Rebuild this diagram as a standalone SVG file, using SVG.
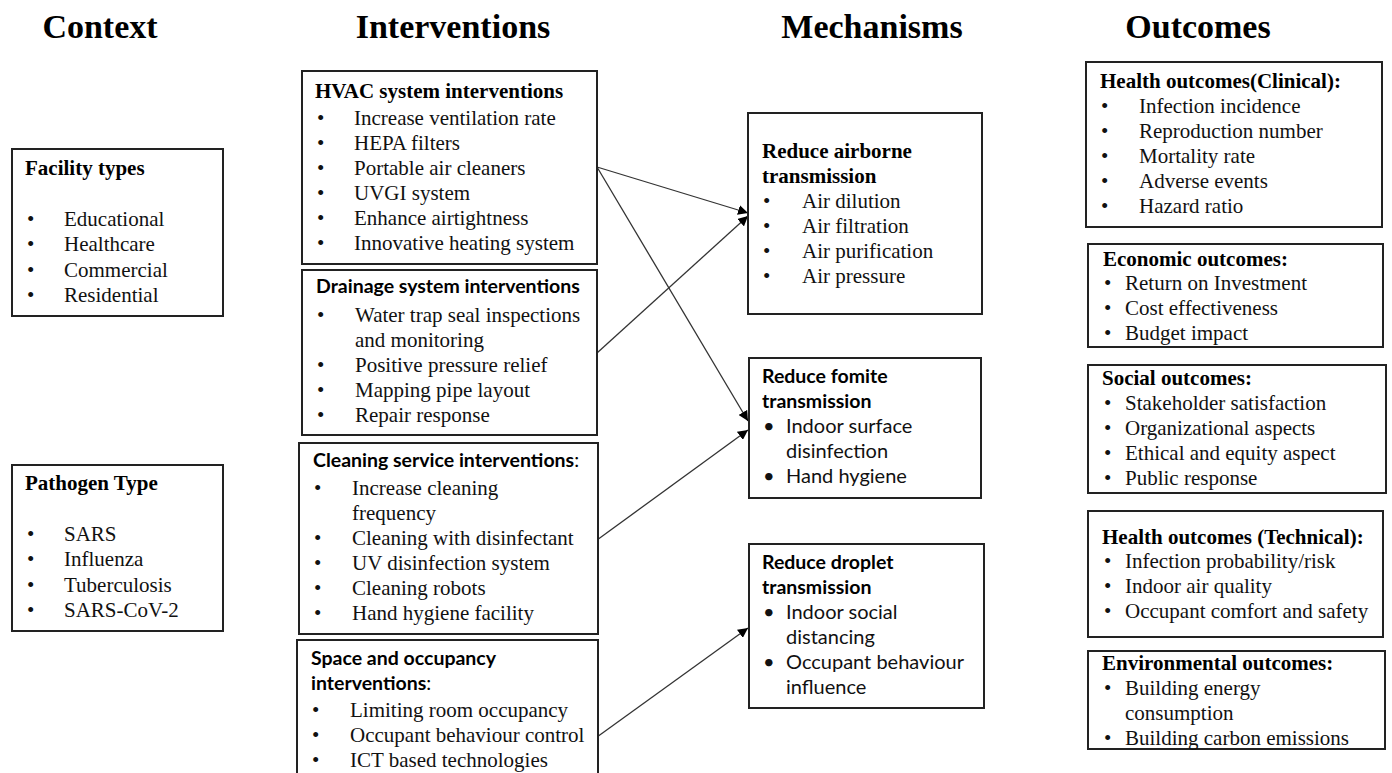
<svg xmlns="http://www.w3.org/2000/svg" width="1392" height="773" viewBox="0 0 1392 773">
<style>
.box{fill:#fff;stroke:#222;stroke-width:2}
.h{font-family:"Liberation Serif","Times New Roman",serif;font-weight:bold;font-size:34px;fill:#000;text-anchor:middle}
.t{font-family:"Liberation Serif","Times New Roman",serif;font-size:21px;fill:#111}
.tb{font-family:"Liberation Serif","Times New Roman",serif;font-size:21px;font-weight:bold;fill:#000}
.s{font-family:Lato,"Open Sans",sans-serif;font-size:20px;fill:#111}
.sb{font-family:Lato,"Open Sans",sans-serif;font-size:19.5px;font-weight:bold;fill:#000}
.ln{stroke:#333;stroke-width:1.3;fill:none;marker-end:url(#ah)}
</style>
<defs>
<marker id="ah" viewBox="0 0 10 10" refX="10" refY="5" markerWidth="10" markerHeight="10" markerUnits="userSpaceOnUse" orient="auto">
<path d="M0,0 L10,5 L0,10 z" fill="#000"/>
</marker>
</defs>
<rect width="1392" height="773" fill="#fff"/>
<g id="headers">
<text class="h" x="100" y="38">Context</text>
<text class="h" x="453" y="38">Interventions</text>
<text class="h" x="872" y="38">Mechanisms</text>
<text class="h" x="1198" y="38">Outcomes</text>
</g>
<g id="connectors">
<line class="ln" x1="597" y1="167" x2="748" y2="213"/>
<line class="ln" x1="597" y1="167" x2="748" y2="421"/>
<line class="ln" x1="597" y1="353" x2="748" y2="216"/>
<line class="ln" x1="597" y1="540" x2="748" y2="430"/>
<line class="ln" x1="597" y1="737" x2="748" y2="628"/>
</g>
<g id="facility">
<rect class="box" x="12" y="149" width="211" height="167"/>
<text class="tb" x="25" y="175">Facility types</text>
<text class="t" x="27" y="226">•</text><text class="t" x="64" y="226">Educational</text>
<text class="t" x="27" y="251">•</text><text class="t" x="64" y="251">Healthcare</text>
<text class="t" x="27" y="277">•</text><text class="t" x="64" y="277">Commercial</text>
<text class="t" x="27" y="302">•</text><text class="t" x="64" y="302">Residential</text>
</g>
<g id="pathogen">
<rect class="box" x="12" y="465" width="211" height="166"/>
<text class="tb" x="25" y="490">Pathogen Type</text>
<text class="t" x="27" y="541">•</text><text class="t" x="64" y="541">SARS</text>
<text class="t" x="27" y="566">•</text><text class="t" x="64" y="566">Influenza</text>
<text class="t" x="27" y="592">•</text><text class="t" x="64" y="592">Tuberculosis</text>
<text class="t" x="27" y="617">•</text><text class="t" x="64" y="617">SARS-CoV-2</text>
</g>
<g id="hvac">
<rect class="box" x="302" y="71" width="295" height="193"/>
<text class="tb" x="315" y="98">HVAC system interventions</text>
<text class="t" x="317" y="125">•</text><text class="t" x="354" y="125">Increase ventilation rate</text>
<text class="t" x="317" y="150">•</text><text class="t" x="354" y="150">HEPA filters</text>
<text class="t" x="317" y="175">•</text><text class="t" x="354" y="175">Portable air cleaners</text>
<text class="t" x="317" y="200">•</text><text class="t" x="354" y="200">UVGI system</text>
<text class="t" x="317" y="225">•</text><text class="t" x="354" y="225">Enhance airtightness</text>
<text class="t" x="317" y="250">•</text><text class="t" x="354" y="250">Innovative heating system</text>
</g>
<g id="drainage">
<rect class="box" x="302" y="270" width="295" height="165"/>
<text class="sb" x="316" y="293">Drainage system interventions</text>
<text class="t" x="317" y="322">•</text><text class="t" x="355" y="322">Water trap seal inspections</text>
<text class="t" x="355" y="347">and monitoring</text>
<text class="t" x="317" y="372">•</text><text class="t" x="355" y="372">Positive pressure relief</text>
<text class="t" x="317" y="397">•</text><text class="t" x="355" y="397">Mapping pipe layout</text>
<text class="t" x="317" y="422">•</text><text class="t" x="355" y="422">Repair response</text>
</g>
<g id="cleaning">
<rect class="box" x="299" y="443" width="299" height="191"/>
<text class="sb" x="313" y="467">Cleaning service interventions<tspan font-weight="normal">:</tspan></text>
<text class="t" x="314" y="495">•</text><text class="t" x="352" y="495">Increase cleaning</text>
<text class="t" x="352" y="520">frequency</text>
<text class="t" x="314" y="545">•</text><text class="t" x="352" y="545">Cleaning with disinfectant</text>
<text class="t" x="314" y="570">•</text><text class="t" x="352" y="570">UV disinfection system</text>
<text class="t" x="314" y="595">•</text><text class="t" x="352" y="595">Cleaning robots</text>
<text class="t" x="314" y="620">•</text><text class="t" x="352" y="620">Hand hygiene facility</text>
</g>
<g id="space">
<rect class="box" x="297" y="640" width="301" height="145"/>
<text class="sb" x="311" y="665">Space and occupancy</text>
<text class="sb" x="311" y="690">interventions<tspan font-weight="normal">:</tspan></text>
<text class="t" x="312" y="717">•</text><text class="t" x="350" y="717">Limiting room occupancy</text>
<text class="t" x="312" y="742">•</text><text class="t" x="350" y="742">Occupant behaviour control</text>
<text class="t" x="312" y="767">•</text><text class="t" x="350" y="767">ICT based technologies</text>
</g>
<g id="airborne">
<rect class="box" x="748" y="113" width="234" height="201"/>
<text class="tb" x="762" y="158">Reduce airborne</text>
<text class="tb" x="762" y="183">transmission</text>
<text class="t" x="763" y="208">•</text><text class="t" x="802" y="208">Air dilution</text>
<text class="t" x="763" y="233">•</text><text class="t" x="802" y="233">Air filtration</text>
<text class="t" x="763" y="258">•</text><text class="t" x="802" y="258">Air purification</text>
<text class="t" x="763" y="283">•</text><text class="t" x="802" y="283">Air pressure</text>
</g>
<g id="fomite">
<rect class="box" x="749" y="358" width="232" height="140"/>
<text class="sb" x="762" y="383">Reduce fomite</text>
<text class="sb" x="762" y="408">transmission</text>
<text class="s" x="763" y="433">•</text><text class="s" x="786" y="433">Indoor surface</text>
<text class="s" x="786" y="458">disinfection</text>
<text class="s" x="763" y="483">•</text><text class="s" x="786" y="483">Hand hygiene</text>
</g>
<g id="droplet">
<rect class="box" x="749" y="544" width="235" height="164"/>
<text class="sb" x="762" y="569">Reduce droplet</text>
<text class="sb" x="762" y="594">transmission</text>
<text class="s" x="763" y="619">•</text><text class="s" x="786" y="619">Indoor social</text>
<text class="s" x="786" y="644">distancing</text>
<text class="s" x="763" y="669">•</text><text class="s" x="786" y="669">Occupant behaviour</text>
<text class="s" x="786" y="694">influence</text>
</g>
<g id="clinical">
<rect class="box" x="1086" y="62" width="296" height="165"/>
<text class="tb" x="1100" y="88">Health outcomes(Clinical):</text>
<text class="t" x="1101" y="113">•</text><text class="t" x="1139" y="113">Infection incidence</text>
<text class="t" x="1101" y="138">•</text><text class="t" x="1139" y="138">Reproduction number</text>
<text class="t" x="1101" y="163">•</text><text class="t" x="1139" y="163">Mortality rate</text>
<text class="t" x="1101" y="188">•</text><text class="t" x="1139" y="188">Adverse events</text>
<text class="t" x="1101" y="213">•</text><text class="t" x="1139" y="213">Hazard ratio</text>
</g>
<g id="economic">
<rect class="box" x="1088" y="244" width="295" height="103"/>
<text class="tb" x="1103" y="266">Economic outcomes:</text>
<text class="t" x="1104" y="290">•</text><text class="t" x="1125" y="290">Return on Investment</text>
<text class="t" x="1104" y="315">•</text><text class="t" x="1125" y="315">Cost effectiveness</text>
<text class="t" x="1104" y="340">•</text><text class="t" x="1125" y="340">Budget impact</text>
</g>
<g id="social">
<rect class="box" x="1088" y="365" width="298" height="128"/>
<text class="tb" x="1102" y="385">Social outcomes:</text>
<text class="t" x="1104" y="410">•</text><text class="t" x="1125" y="410">Stakeholder satisfaction</text>
<text class="t" x="1104" y="435">•</text><text class="t" x="1125" y="435">Organizational aspects</text>
<text class="t" x="1104" y="460">•</text><text class="t" x="1125" y="460">Ethical and equity aspect</text>
<text class="t" x="1104" y="485">•</text><text class="t" x="1125" y="485">Public response</text>
</g>
<g id="technical">
<rect class="box" x="1088" y="511" width="295" height="126"/>
<text class="tb" x="1102" y="544">Health outcomes (Technical):</text>
<text class="t" x="1104" y="568">•</text><text class="t" x="1125" y="568">Infection probability/risk</text>
<text class="t" x="1104" y="593">•</text><text class="t" x="1125" y="593">Indoor air quality</text>
<text class="t" x="1104" y="618">•</text><text class="t" x="1125" y="618">Occupant comfort and safety</text>
</g>
<g id="environmental">
<rect class="box" x="1088" y="651" width="297" height="98"/>
<text class="tb" x="1102" y="670">Environmental outcomes:</text>
<text class="t" x="1104" y="695">•</text><text class="t" x="1125" y="695">Building energy</text>
<text class="t" x="1125" y="720">consumption</text>
<text class="t" x="1104" y="745">•</text><text class="t" x="1125" y="745">Building carbon emissions</text>
</g>
</svg>
